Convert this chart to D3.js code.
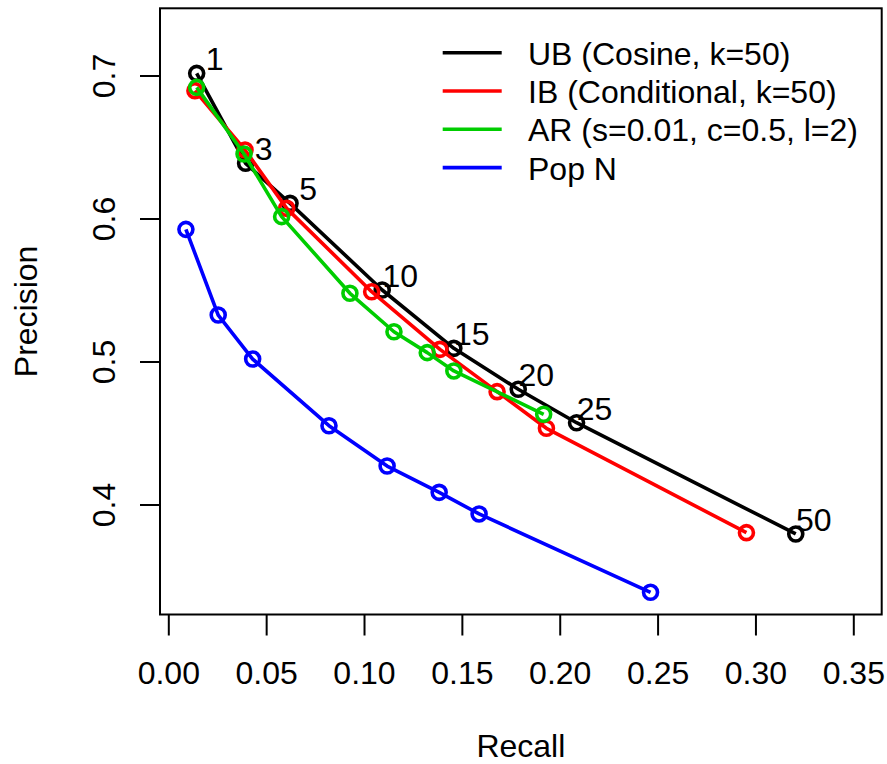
<!DOCTYPE html>
<html>
<head>
<meta charset="utf-8">
<script src="https://cdn.jsdelivr.net/npm/d3@7"></script>
<style>
  html, body { margin: 0; padding: 0; background: #fff; }
  svg { display: block; font-family: "Liberation Sans", Arial, Helvetica, sans-serif; }
</style>
</head>
<body>
<svg id="chart" width="887" height="764"></svg>
<script>
// ---- data ----
const kLabels = [1, 3, 5, 10, 15, 20, 25, 50];
const ubRecall    = [0.0145, 0.0395, 0.0622, 0.1093, 0.1459, 0.1788, 0.2086, 0.3206];
const ubPrecision = [0.7015, 0.6386, 0.6106, 0.5500, 0.5092, 0.4806, 0.4572, 0.3794];
const ibRecall    = [0.0136, 0.0392, 0.0605, 0.1039, 0.1388, 0.1680, 0.1932, 0.2954];
const ibPrecision = [0.6894, 0.6479, 0.6071, 0.5488, 0.5085, 0.4789, 0.4533, 0.3803];
const arRecall    = [0.0145, 0.0387, 0.0579, 0.0928, 0.1153, 0.1323, 0.1459, 0.1918];
const arPrecision = [0.6917, 0.6451, 0.6013, 0.5477, 0.5208, 0.5062, 0.4934, 0.4631];
const popRecall    = [0.0090, 0.0255, 0.0431, 0.0821, 0.1118, 0.1384, 0.1588, 0.2464];
const popPrecision = [0.5924, 0.5325, 0.5017, 0.4551, 0.4269, 0.4085, 0.3934, 0.3386];
const seriesNames = ["UB (Cosine, k=50)", "IB (Conditional, k=50)", "AR (s=0.01, c=0.5, l=2)", "Pop N"];
const seriesColors = ["#000000", "#FF0000", "#00CD00", "#0000FF"];
const xTicks = [0, 0.05, 0.10, 0.15, 0.20, 0.25, 0.30, 0.35];
const yTicks = [0.4, 0.5, 0.6, 0.7];

const series = [
  {recall: ubRecall, precision: ubPrecision},
  {recall: ibRecall, precision: ibPrecision},
  {recall: arRecall, precision: arPrecision},
  {recall: popRecall, precision: popPrecision}
].map((s, i) => ({
  name: seriesNames[i], color: seriesColors[i],
  pts: s.recall.map((r, j) => ({r: r, p: s.precision[j]}))
}));

// ---- layout ----
const box = {left: 160, right: 881.7, top: 8.3, bottom: 614.5};
const FS = 32;
const svg = d3.select("#chart");

const x = d3.scaleLinear().domain([0, 0.35]).range([168.3, 853.3]);
const y = d3.scaleLinear().domain([0.4, 0.7]).range([504.5, 75.5]);

// series
const line = d3.line().x(d => x(d.r)).y(d => y(d.p));
series.forEach(s => {
  const g = svg.append("g");
  g.append("path").datum(s.pts)
    .attr("d", line).attr("fill", "none")
    .attr("stroke", s.color).attr("stroke-width", 3.6)
    .attr("stroke-linejoin", "round");
  g.selectAll("circle").data(s.pts).join("circle")
    .attr("cx", d => x(d.r)).attr("cy", d => y(d.p)).attr("r", 7)
    .attr("fill", "none").attr("stroke", s.color).attr("stroke-width", 3.6);
});

// k labels near UB points
svg.append("g").selectAll("text").data(series[0].pts).join("text")
  .attr("x", d => x(d.r) + 18).attr("y", d => y(d.p) - 3)
  .attr("text-anchor", "middle").attr("font-size", FS).attr("fill", "#000")
  .text((d, i) => kLabels[i]);

// box
svg.append("rect")
  .attr("x", box.left).attr("y", box.top)
  .attr("width", box.right - box.left).attr("height", box.bottom - box.top)
  .attr("fill", "none").attr("stroke", "#000").attr("stroke-width", 2);

// x axis
const xAxis = d3.axisBottom(x).tickValues(xTicks).tickFormat(d3.format(".2f"))
  .tickSize(21).tickPadding(28);
const gx = svg.append("g").attr("transform", `translate(0,${box.bottom})`).call(xAxis);
gx.select(".domain").remove();
gx.selectAll(".tick line").attr("stroke", "#000").attr("stroke-width", 2);
gx.selectAll(".tick text").attr("font-size", FS).attr("font-family", "Liberation Sans, Arial, sans-serif")
  .attr("fill", "#000").attr("dy", null).attr("y", 684 - box.bottom);

// y axis
const yAxis = d3.axisLeft(y).tickValues(yTicks).tickFormat(d3.format(".1f")).tickSize(20);
const gy = svg.append("g").attr("transform", `translate(${box.left},0)`).call(yAxis);
gy.select(".domain").remove();
gy.selectAll(".tick line").attr("stroke", "#000").attr("stroke-width", 2);
gy.selectAll(".tick text")
  .attr("font-size", FS).attr("font-family", "Liberation Sans, Arial, sans-serif").attr("fill", "#000")
  .attr("x", null).attr("dy", null).attr("y", null)
  .attr("text-anchor", "middle")
  .attr("transform", `translate(${115 - box.left},0) rotate(-90)`);

// axis titles
svg.append("text").attr("x", (box.left + box.right) / 2).attr("y", 757)
  .attr("text-anchor", "middle").attr("font-size", FS).text("Recall");
svg.append("text")
  .attr("transform", `translate(37,${(box.top + box.bottom) / 2}) rotate(-90)`)
  .attr("text-anchor", "middle").attr("font-size", FS).text("Precision");

// legend
const lg = svg.append("g");
series.forEach((s, i) => {
  const ly = 52.7 + i * 38.3;
  lg.append("line").attr("x1", 442.7).attr("x2", 501.7).attr("y1", ly).attr("y2", ly)
    .attr("stroke", s.color).attr("stroke-width", 3.6);
  lg.append("text").attr("x", 528).attr("y", ly + 12)
    .attr("font-size", FS).attr("fill", "#000").text(s.name);
});
</script>
</body>
</html>
